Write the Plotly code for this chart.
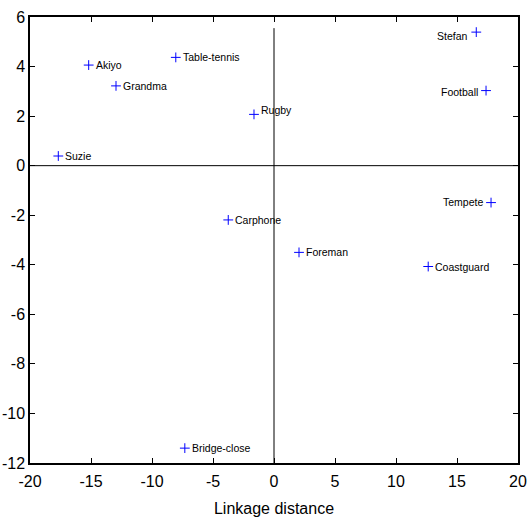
import plotly.graph_objects as go

names = ["Akiyo", "Grandma", "Table-tennis", "Rugby", "Suzie", "Stefan", "Football",
         "Tempete", "Carphone", "Foreman", "Coastguard", "Bridge-close"]
x_vals = [-15.19, -12.95, -8.05, -1.64, -17.68, 16.58, 17.38, 17.79, -3.75, 2.05, 12.64, -7.31]
y_vals = [4.06, 3.22, 4.37, 2.07, 0.39, 5.39, 3.03, -1.49, -2.19, -3.50, -4.07, -11.40]
label_side = ["right", "right", "right", "right", "right", "left", "left",
              "left", "right", "right", "right", "right"]
label_dy = [0, 0, 0, 4, 0, -4, -1, 1, 0, 0, 0, 0]

x_ticks = [-20, -15, -10, -5, 0, 5, 10, 15, 20]
y_ticks = [-12, -10, -8, -6, -4, -2, 0, 2, 4, 6]
x_range = [-20, 20]
y_range = [-12, 6]
vline_extent = [-12, 5.55]

FONT = "Liberation Sans, Arial, sans-serif"

fig = go.Figure()
fig.add_trace(go.Scatter(
    x=x_vals, y=y_vals, mode="markers",
    marker=dict(symbol="cross-thin", size=7, line=dict(color="#0000ff", width=1), color="#0000ff"),
    hoverinfo="skip", showlegend=False,
))

# zero lines
fig.add_trace(go.Scatter(x=x_range, y=[0, 0], mode="lines",
                         line=dict(color="black", width=1), hoverinfo="skip", showlegend=False))
fig.add_trace(go.Scatter(x=[0, 0], y=vline_extent, mode="lines",
                         line=dict(color="black", width=1), hoverinfo="skip", showlegend=False))

for n, xv, yv, side, dy in zip(names, x_vals, y_vals, label_side, label_dy):
    fig.add_annotation(
        x=xv, y=yv, text=n, showarrow=False,
        xanchor="left" if side == "right" else "right",
        xshift=5 if side == "right" else -6,
        yshift=dy,
        font=dict(family=FONT, size=10.5, color="black"),
    )

axis_common = dict(
    showgrid=False, zeroline=False, showline=True, linecolor="black", linewidth=1.5,
    mirror="ticks", ticks="inside", ticklen=5, tickwidth=1, tickcolor="black",
    tickfont=dict(family=FONT, size=16, color="black"),
)

fig.update_xaxes(range=x_range, tickvals=x_ticks, ticktext=[str(t) for t in x_ticks],
                 ticklabelstandoff=3,
                 title=dict(text="Linkage distance", font=dict(family=FONT, size=16, color="black"), standoff=14),
                 **axis_common)
fig.update_yaxes(range=y_range, tickvals=y_ticks, ticktext=[str(t) for t in y_ticks], **axis_common)

fig.update_layout(
    width=527, height=520,
    margin=dict(l=30, r=9, t=17, b=57, autoexpand=False),
    plot_bgcolor="white", paper_bgcolor="white",
)

fig.write_html("out.html")
